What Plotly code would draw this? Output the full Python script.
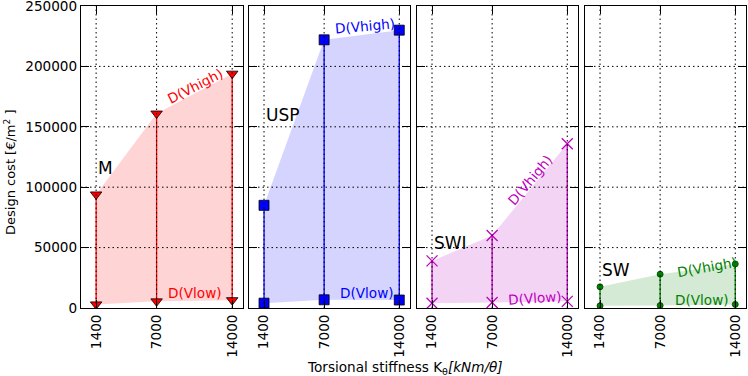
import plotly.graph_objects as go

stiffness = [1400, 7000, 14000]
tick_labels = ["1400", "7000", "14000"]

names = ["M", "USP", "SWI", "SW"]
high_M = [94000, 161000, 194000]
low_M = [3000, 5500, 6500]
high_USP = [85000, 222000, 230000]
low_USP = [4000, 6800, 6600]
high_SWI = [39000, 60000, 136000]
low_SWI = [4000, 4500, 5500]
high_SW = [17500, 28000, 36500]
low_SW = [1800, 2000, 3000]
y_ticks = [0, 50000, 100000, 150000, 200000, 250000]

highs = [high_M, high_USP, high_SWI, high_SW]
lows = [low_M, low_USP, low_SWI, low_SW]
colors = ["#ff0000", "#0000ff", "#bf00bf", "#008000"]
fills = ["rgba(255,0,0,0.17)", "rgba(0,0,255,0.17)", "rgba(191,0,191,0.17)", "rgba(0,128,0,0.17)"]
symbols = ["triangle-down", "square", "x-thin", "circle"]
msizes = [10, 10, 10, 6]

W, H = 748, 376
L, R, T, B = 81, 2, 6, 68
pw = W - L - R
ph = H - T - B
panels_px = [(81, 243), (249, 410), (417, 578), (585, 746)]
domains = [[(a - L) / pw, (b - L) / pw] for a, b in panels_px]

FONT = "DejaVu Sans"
FS = 13.6
GRID_DASH = "1.5px,3px"
fig = go.Figure()

for i in range(4):
    xa = "x" if i == 0 else f"x{i+1}"
    xs = stiffness
    hi, lo = highs[i], lows[i]
    fig.add_trace(go.Scatter(x=xs + xs[::-1], y=hi + lo[::-1], xaxis=xa, yaxis="y",
                             fill="toself", fillcolor=fills[i], line=dict(width=0),
                             mode="lines", hoverinfo="skip", showlegend=False))
    vx, vy = [], []
    for x, a, b in zip(xs, lo, hi):
        vx += [x, x, None]
        vy += [a, b, None]
    fig.add_trace(go.Scatter(x=vx, y=vy, xaxis=xa, yaxis="y", mode="lines",
                             line=dict(color=colors[i], width=1.3), showlegend=False))
    if symbols[i] == "x-thin":
        mk = dict(symbol="x-thin", size=11, line=dict(color=colors[i], width=1.3), color=colors[i])
    else:
        mk = dict(symbol=symbols[i], size=msizes[i], color=colors[i],
                  line=dict(color="black" if i < 2 else "#004000", width=0.8))
    fig.add_trace(go.Scatter(x=xs + xs, y=hi + lo, xaxis=xa, yaxis="y", mode="markers",
                             marker=mk, showlegend=False))

axis_common = dict(range=[0, 15000], tickvals=stiffness, ticktext=tick_labels, tickangle=-90,
                   showline=True, linecolor="black", linewidth=1.2, mirror="ticks",
                   ticks="inside", ticklen=8, tickcolor="black", tickwidth=1,
                   showgrid=False, zeroline=False,
                   tickfont=dict(family=FONT, size=FS, color="black"))

layout = dict(width=W, height=H, margin=dict(l=L, r=R, t=T, b=B, autoexpand=False),
              plot_bgcolor="white", paper_bgcolor="white",
              font=dict(family=FONT, size=FS, color="black"), showlegend=False)
for i in range(4):
    key = "xaxis" if i == 0 else f"xaxis{i+1}"
    layout[key] = dict(axis_common, domain=domains[i], anchor="y")
layout["yaxis"] = dict(range=[0, 250000], tickvals=y_ticks, tickformat="d",
                       ticklabeloverflow="allow",
                       showline=True, linecolor="black", linewidth=1.2, mirror="ticks",
                       ticks="inside", ticklen=8, tickcolor="black",
                       showgrid=False, zeroline=False,
                       tickfont=dict(family=FONT, size=FS, color="black"))
fig.update_layout(**layout)

for i in range(1, 4):
    fig.add_trace(go.Scatter(x=[None], y=[None], xaxis=f"x{i+1}", yaxis=f"y{i+1}", showlegend=False))
    fig.update_layout(**{f"yaxis{i+1}": dict(range=[0, 250000], anchor=f"x{i+1}",
                                             tickvals=y_ticks,
                                             showticklabels=False, showline=True, linecolor="black",
                                             linewidth=1.2, mirror="ticks", ticks="inside", ticklen=8,
                                             tickcolor="black", showgrid=False, zeroline=False,
                                             overlaying="y")})

# dotted grid drawn above the traces (as in the reference)
for i in range(4):
    xr = "x" if i == 0 else f"x{i+1}"
    for xv in stiffness:
        fig.add_shape(type="line", xref=xr, yref="paper", x0=xv, x1=xv, y0=0, y1=1,
                      line=dict(color="black", width=1, dash=GRID_DASH), layer="above")
    for yv in y_ticks[1:-1]:
        fig.add_shape(type="line", xref=f"{xr} domain", yref="y", x0=0, x1=1, y0=yv, y1=yv,
                      line=dict(color="black", width=1, dash=GRID_DASH), layer="above")

name_pos = [(1400, 116000), (1400, 160000), (1400, 54000), (1400, 31500)]
for i, (nx, ny) in enumerate(name_pos):
    xr = "x" if i == 0 else f"x{i+1}"
    fig.add_annotation(x=nx, y=ny, xref=xr, yref="y", text=names[i], showarrow=False,
                       xanchor="left", yanchor="middle", font=dict(family=FONT, size=17, color="black"))

hi_lbl = [(10556, 184000, -27), (10807, 233500, -5), (10528, 106000, -50), (11366, 34000, -10)]
lo_lbl = [(10556, 12700, 0), (10994, 12700, 0), (10994, 8500, -4), (10900, 7000, 0)]
for i in range(4):
    xr = "x" if i == 0 else f"x{i+1}"
    for (lx, ly, ang), t in ((hi_lbl[i], "D(Vhigh)"), (lo_lbl[i], "D(Vlow)")):
        fig.add_annotation(x=lx, y=ly, xref=xr, yref="y", text=t, showarrow=False,
                           textangle=ang, xanchor="center", yanchor="middle",
                           font=dict(family=FONT, size=FS, color=colors[i]))

# axis titles
fig.add_annotation(x=(405 - L) / pw, y=-(368 - (H - B)) / ph, xref="paper", yref="paper",
                   text="Torsional stiffness K<sub>θ</sub><i>[kNm/θ]</i>", showarrow=False,
                   xanchor="center", yanchor="middle", font=dict(family=FONT, size=FS, color="black"))
fig.add_annotation(x=(10 - L) / pw, y=1 - (172 - T) / ph, xref="paper", yref="paper",
                   text="Design cost [€/m<sup>2</sup> ]", showarrow=False, textangle=-90,
                   xanchor="center", yanchor="middle", font=dict(family=FONT, size=13, color="black"))

fig.write_html("out.html", config={"displayModeBar": False},
               post_script="document.body.style.margin='0';")
